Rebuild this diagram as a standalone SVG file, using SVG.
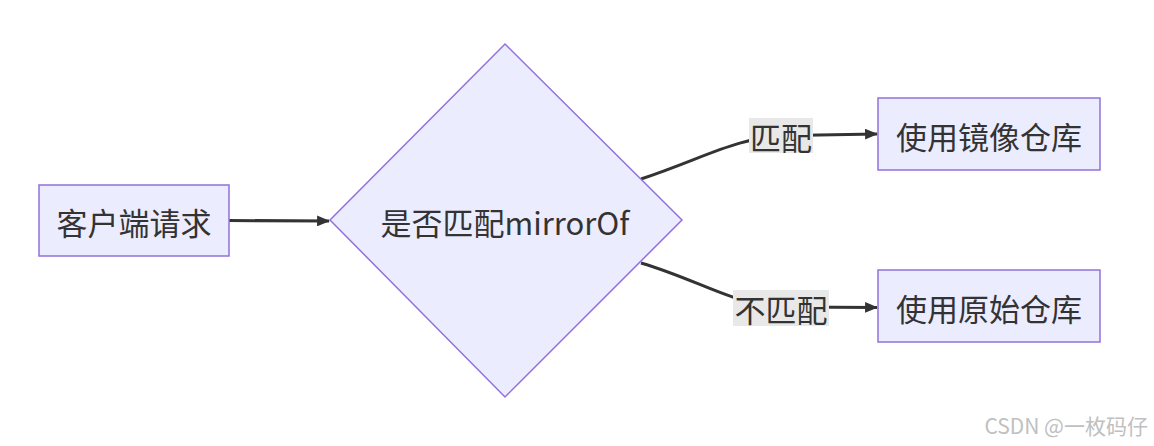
<svg xmlns="http://www.w3.org/2000/svg" width="1154" height="446" viewBox="0 0 1154 446">
<style>
.node rect,.node polygon{fill:#ECECFF;stroke:#9370DB;stroke-width:1.5}
.t{font-family:"Noto Sans CJK SC","Noto Sans",sans-serif;font-size:31px;fill:#333;text-anchor:middle;dominant-baseline:central}
.e{fill:none;stroke:#333;stroke-width:3}
.lb{fill:#e8e8e8}
.wm{font-family:"Noto Sans CJK SC","Liberation Sans",sans-serif;font-size:21px;fill:#c0c0c0;text-anchor:end}
</style>
<defs>
<marker id="arr" viewBox="0 0 12 10" refX="11" refY="5" markerWidth="13" markerHeight="11" orient="auto" markerUnits="userSpaceOnUse">
<path d="M0,0 L12,5 L0,10 z" fill="#333"/>
</marker>
</defs>
<g id="connectors">
<path class="e" d="M229,220.5 L329,221" marker-end="url(#arr)"/>
<path class="e" d="M641,179 C705,158 735,137 790,135.5 L877,134" marker-end="url(#arr)"/>
<path class="e" d="M641,263 C705,282 735,307 790,307 L877,307.5" marker-end="url(#arr)"/>
</g>
<g id="edge-labels">
<rect class="lb" x="749" y="118" width="64" height="35"/>
<text class="t" x="781" y="136">匹配</text>
<rect class="lb" x="733" y="290" width="96" height="36"/>
<text class="t" x="781" y="308">不匹配</text>
</g>
<g id="A" class="node">
<rect x="39" y="185" width="190" height="71"/>
<text class="t" x="134" y="221">客户端请求</text>
</g>
<g id="D" class="node">
<polygon points="505,44 682,220 505,397 330,220"/>
<text class="t" x="505" y="221">是否匹配mirrorOf</text>
</g>
<g id="B" class="node">
<rect x="878" y="98" width="222" height="72"/>
<text class="t" x="989" y="135">使用镜像仓库</text>
</g>
<g id="C" class="node">
<rect x="878" y="270" width="222" height="72"/>
<text class="t" x="989" y="307">使用原始仓库</text>
</g>
<text class="wm" x="1148" y="434">CSDN @一枚码仔</text>
</svg>
